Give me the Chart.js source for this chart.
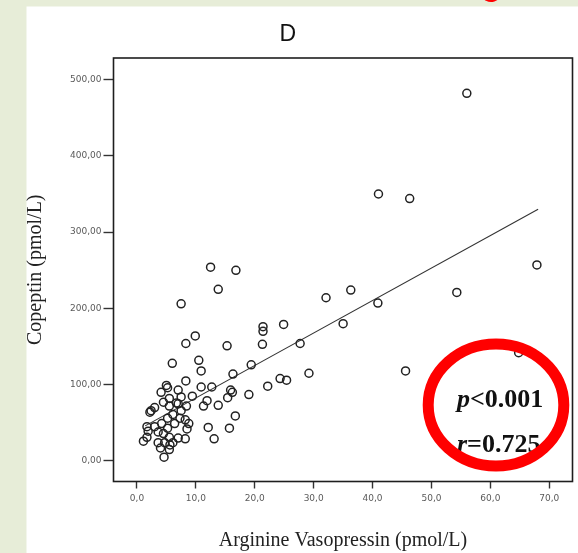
<!DOCTYPE html>
<html>
<head>
<meta charset="utf-8">
<script src="https://cdn.jsdelivr.net/npm/chart.js@4/dist/chart.umd.min.js"></script>
<style>
  html, body { margin: 0; padding: 0; background: #e7edd8; }
  #wrap { width: 578px; height: 553px; position: relative; }
</style>
</head>
<body>
<div id="wrap"><canvas id="c" width="578" height="553"></canvas></div>
<script>
// ---- data ----
const chartTitle = 'D';
const xAxisTitle = 'Arginine Vasopressin (pmol/L)';
const yAxisTitle = 'Copeptin (pmol/L)';

const xTickValues = [0, 10, 20, 30, 40, 50, 60, 70];
const xTickLabels = ['0,0', '10,0', '20,0', '30,0', '40,0', '50,0', '60,0', '70,0'];
const yTickValues = [0, 100, 200, 300, 400, 500];
const yTickLabels = ['0,00', '100,00', '200,00', '300,00', '400,00', '500,00'];

// Arginine vasopressin (x) and copeptin (y) per patient
const avp = [
  56.0, 41.0, 46.3, 67.9, 54.3, 40.9, 36.3, 32.1, 35.0, 27.7,
  29.2, 45.6, 64.8, 12.5, 16.8, 13.8, 7.5, 24.9, 21.4, 21.4,
  21.3, 15.3, 9.9, 8.3, 10.5, 10.9, 6.0, 19.4, 16.3, 24.3,
  25.4, 22.2, 19.0, 16.7, 15.7, 12.1, 13.1, 15.9, 16.2, 15.4,
  13.8, 12.7, 10.9, 11.9, 11.3, 8.3, 9.4, 7.0, 5.0, 5.2,
  4.1, 4.5, 5.5, 7.0, 7.5, 8.4, 8.2, 8.8, 8.5, 8.2,
  7.0, 5.5, 4.6, 4.0, 3.6, 2.4, 3.0, 1.1, 1.7, 1.9,
  1.7, 3.0, 4.2, 5.2, 6.1, 5.5, 4.5, 3.6, 5.2, 6.4,
  7.3, 6.1, 4.7, 7.5, 5.5, 6.7, 2.2, 5.6
];
const copeptin = [
  482, 350, 344, 257, 221, 207, 224, 214, 180, 154,
  115, 118, 142, 254, 250, 225, 206, 179, 176, 170,
  153, 151, 164, 154, 132, 118, 128, 126, 114, 108,
  106, 98, 87, 59, 43, 44, 29, 93, 90, 83,
  73, 97, 97, 79, 72, 105, 85, 93, 99, 96,
  90, 77, 72, 75, 66, 72, 54, 49, 42, 29,
  30, 15, 5, 17, 24, 66, 70, 26, 31, 39,
  45, 45, 49, 56, 61, 31, 36, 38, 43, 49,
  56, 24, 24, 84, 82, 76, 64, 21
];

// fitted regression line end points
const fitAvp = [1.4, 68.1];
const fitCopeptin = [46, 330];

// annotation text
const statSymbols = ['p', 'r'];
const statValues = ['<0.001', '=0.725'];

// ---- build chart ----
const points = avp.map((v, i) => ({ x: v, y: copeptin[i] }));
const fitLine = fitAvp.map((v, i) => ({ x: v, y: fitCopeptin[i] }));

const backgroundPlugin = {
  id: 'bg',
  beforeDraw(chart) {
    const ctx = chart.ctx;
    ctx.save();
    ctx.fillStyle = '#e7edd8';
    ctx.fillRect(0, 0, chart.width, chart.height);
    ctx.fillStyle = '#ffffff';
    ctx.fillRect(26.5, 6.5, chart.width - 26.5, chart.height - 6.5);
    ctx.restore();
  }
};

const framePlugin = {
  id: 'frame',
  afterDraw(chart) {
    const ctx = chart.ctx;
    const a = chart.chartArea;
    ctx.save();
    ctx.strokeStyle = '#1e1e1e';
    ctx.lineWidth = 1.6;
    ctx.strokeRect(a.left, a.top, a.right - a.left, a.bottom - a.top);

    // statistics text
    const x0 = 457;
    const baselines = [407, 451.5];
    ctx.fillStyle = '#111';
    ctx.textBaseline = 'alphabetic';
    ctx.textAlign = 'left';
    statSymbols.forEach((s, i) => {
      ctx.font = 'italic bold 26px "Liberation Serif"';
      ctx.fillText(s, x0, baselines[i]);
      const w = ctx.measureText(s).width;
      ctx.font = 'bold 26px "Liberation Serif"';
      ctx.fillText(statValues[i], x0 + w, baselines[i]);
    });

    // red highlight ellipse
    ctx.strokeStyle = '#ff0000';
    ctx.lineWidth = 11;
    ctx.beginPath();
    ctx.ellipse(496, 405, 67.8, 61, 0, 0, Math.PI * 2);
    ctx.stroke();

    // fragment of red mark at top edge
    ctx.lineWidth = 4;
    ctx.beginPath();
    ctx.ellipse(491, -9, 9, 9, 0, 0.15 * Math.PI, 0.85 * Math.PI);
    ctx.stroke();
    ctx.restore();
  }
};

new Chart(document.getElementById('c'), {
  type: 'scatter',
  data: {
    datasets: [
      {
        type: 'scatter',
        data: points,
        pointStyle: 'circle',
        pointRadius: 4,
        pointHoverRadius: 4,
        borderWidth: 1.5,
        borderColor: '#222222',
        backgroundColor: 'rgba(0,0,0,0)'
      },
      {
        type: 'line',
        data: fitLine,
        borderColor: '#333333',
        borderWidth: 1.1,
        pointRadius: 0,
        fill: false,
        tension: 0
      }
    ]
  },
  options: {
    responsive: false,
    animation: false,
    devicePixelRatio: 1,
    layout: { padding: { left: 0, right: 2.5, top: 0, bottom: 0 } },
    plugins: {
      legend: { display: false },
      tooltip: { enabled: false },
      title: {
        display: true,
        text: chartTitle,
        color: '#111',
        font: { family: '"Liberation Sans", Arial, sans-serif', size: 23, weight: 'normal' },
        padding: { top: 20.9, bottom: 9.5 }
      }
    },
    scales: {
      x: {
        type: 'linear',
        min: -3.98,
        max: 73.94,
        afterBuildTicks: s => { s.ticks = xTickValues.map(v => ({ value: v })); },
        afterFit: s => { s.height = 71.5; s.paddingLeft = 0; s.paddingRight = 0; },
        ticks: {
          autoSkip: false,
          maxRotation: 0,
          minRotation: 0,
          padding: 5,
          color: '#5a5a5a',
          font: { family: '"DejaVu Sans", sans-serif', size: 9 },
          callback: (v, i) => xTickLabels[i]
        },
        grid: { display: true, drawOnChartArea: false, drawTicks: true, tickLength: 7, tickColor: '#333', tickWidth: 1.4 },
        border: { display: false },
        title: {
          display: true,
          text: xAxisTitle,
          color: '#222',
          font: { family: '"Liberation Serif", "Times New Roman", serif', size: 20 },
          padding: { top: 24.7, bottom: 0 }
        }
      },
      y: {
        type: 'linear',
        min: -26.9,
        max: 528.3,
        afterBuildTicks: s => { s.ticks = yTickValues.map(v => ({ value: v })); },
        afterFit: s => { s.width = 113.5; s.paddingTop = 0; s.paddingBottom = 0; },
        ticks: {
          autoSkip: false,
          padding: 2,
          color: '#5a5a5a',
          font: { family: '"DejaVu Sans", sans-serif', size: 9 },
          callback: (v, i) => yTickLabels[i]
        },
        grid: { display: true, drawOnChartArea: false, drawTicks: true, tickLength: 10, tickColor: '#333', tickWidth: 1.4 },
        border: { display: false },
        title: {
          display: true,
          text: yAxisTitle,
          color: '#222',
          font: { family: '"Liberation Serif", "Times New Roman", serif', size: 20 },
          padding: { top: 24, bottom: 0 }
        }
      }
    }
  },
  plugins: [backgroundPlugin, framePlugin]
});
</script>
</body>
</html>
